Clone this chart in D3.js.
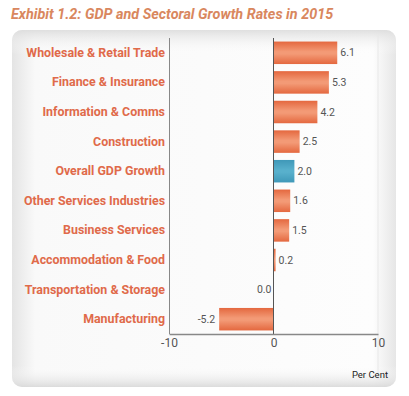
<!DOCTYPE html>
<html>
<head>
<meta charset="utf-8">
<script src="https://cdn.jsdelivr.net/npm/d3@7"></script>
<style>
  body { margin: 0; background: #fff; }
  svg { display: block; }
</style>
</head>
<body>
<div id="chart"></div>
<script>
var sectors = ["Wholesale & Retail Trade", "Finance & Insurance", "Information & Comms", "Construction",
    "Overall GDP Growth", "Other Services Industries", "Business Services", "Accommodation & Food",
    "Transportation & Storage", "Manufacturing"];
var growth = [6.1, 5.3, 4.2, 2.5, 2.0, 1.6, 1.5, 0.2, 0.0, -5.2];
var xTicks = [-10, 0, 10];

var W = 409, H = 396;
var svg = d3.select("#chart").append("svg").attr("width", W).attr("height", H);
var defs = svg.append("defs");

// panel background gradient
var pg = defs.append("linearGradient").attr("id", "panel").attr("x1", 0).attr("x2", 1).attr("y1", 0).attr("y2", 0);
pg.append("stop").attr("offset", "0%").attr("stop-color", "#e4e4e4");
pg.append("stop").attr("offset", "6%").attr("stop-color", "#f9f9f9");
pg.append("stop").attr("offset", "94%").attr("stop-color", "#fdfdfd");
pg.append("stop").attr("offset", "100%").attr("stop-color", "#e6e6e6");
var pv = defs.append("linearGradient").attr("id", "panelv").attr("x1", 0).attr("x2", 0).attr("y1", 0).attr("y2", 1);
pv.append("stop").attr("offset", "0%").attr("stop-color", "#dcdcdc").attr("stop-opacity", 0.9);
pv.append("stop").attr("offset", "7%").attr("stop-color", "#ffffff").attr("stop-opacity", 0);
pv.append("stop").attr("offset", "94%").attr("stop-color", "#ffffff").attr("stop-opacity", 0);
pv.append("stop").attr("offset", "100%").attr("stop-color", "#d8d8d8").attr("stop-opacity", 0.9);

// bar gradients
function barGrad(id, edge, mid) {
    var g = defs.append("linearGradient").attr("id", id).attr("x1", 0).attr("x2", 0).attr("y1", 0).attr("y2", 1);
    g.append("stop").attr("offset", "0%").attr("stop-color", edge);
    g.append("stop").attr("offset", "45%").attr("stop-color", mid);
    g.append("stop").attr("offset", "55%").attr("stop-color", mid);
    g.append("stop").attr("offset", "100%").attr("stop-color", edge);
}
barGrad("orange", "#e4683f", "#f39a76");
barGrad("blue", "#3f98b8", "#58b0cc");

svg.append("rect").attr("x", 12).attr("y", 30).attr("width", 384).attr("height", 357)
    .attr("rx", 10).attr("fill", "url(#panel)");
svg.append("rect").attr("x", 12).attr("y", 30).attr("width", 384).attr("height", 357)
    .attr("rx", 10).attr("fill", "url(#panelv)");

// title
svg.append("text").attr("x", 11).attr("y", 19)
    .attr("font-family", "Roboto, sans-serif").attr("font-weight", "bold").attr("font-style", "italic")
    .attr("font-size", 14.4).attr("fill", "#d9875e")
    .text("Exhibit 1.2: GDP and Sectoral Growth Rates in 2015");

var plotL = 169, plotR = 378, plotT = 38, plotB = 334;
var x = d3.scaleLinear().domain([-10, 10]).range([plotL, plotR]);
var y = d3.scaleBand().domain(sectors).range([plotT, plotB]).paddingInner(0.24).paddingOuter(0.12);

// faint right edge line
svg.append("line").attr("x1", plotR).attr("x2", plotR).attr("y1", 34).attr("y2", 380)
    .attr("stroke", "#e8e8e8").attr("stroke-width", 1);

// bars
svg.selectAll("rect.bar").data(growth).enter().append("rect")
    .attr("class", "bar")
    .attr("x", function(d) { return x(Math.min(0, d)); })
    .attr("y", function(d, i) { return y(sectors[i]); })
    .attr("width", function(d) { return Math.abs(x(d) - x(0)); })
    .attr("height", y.bandwidth())
    .attr("fill", function(d, i) { return sectors[i] == "Overall GDP Growth" ? "url(#blue)" : "url(#orange)"; });

// value labels
svg.selectAll("text.val").data(growth).enter().append("text")
    .attr("class", "val")
    .attr("x", function(d) { return d < 0 ? x(d) - 4 : (d == 0 ? x(0) - 2 : x(d) + 3); })
    .attr("y", function(d, i) { return y(sectors[i]) + y.bandwidth() / 2; })
    .attr("dy", "0.35em")
    .attr("text-anchor", function(d) { return d <= 0 ? "end" : "start"; })
    .attr("font-family", "Roboto, sans-serif").attr("font-size", 10.5).attr("fill", "#555")
    .text(function(d) { return d.toFixed(1); });

// zero line
svg.append("line").attr("x1", x(0)).attr("x2", x(0)).attr("y1", plotT).attr("y2", plotB)
    .attr("stroke", "#555").attr("stroke-width", 1);

// left axis with category labels
var yAxis = svg.append("g").attr("transform", "translate(" + plotL + ",0)")
    .call(d3.axisLeft(y).tickSize(0).tickPadding(4));
yAxis.select(".domain").attr("stroke", "#888").attr("d", "M0.5," + plotT + "V" + plotB);
yAxis.selectAll("text").attr("font-family", "Roboto, sans-serif").attr("font-weight", "bold")
    .attr("font-size", 12.4).attr("fill", "#e06a4a");

// bottom axis
var xAxis = svg.append("g").attr("transform", "translate(0," + plotB + ")")
    .call(d3.axisBottom(x).tickValues(xTicks).tickSize(0).tickPadding(4).tickFormat(d3.format("d")));
xAxis.select(".domain").attr("stroke", "#888").attr("stroke-width", 1.5);
xAxis.selectAll("text").attr("font-family", "Roboto, sans-serif").attr("font-size", 12).attr("fill", "#555")
    .text(function(d) { return d < 0 ? "-" + Math.abs(d) : d; });

svg.append("text").attr("x", 388).attr("y", 378).attr("text-anchor", "end")
    .attr("font-family", "Roboto, sans-serif").attr("font-size", 9.5).attr("fill", "#222")
    .text("Per Cent");
</script>
</body>
</html>
